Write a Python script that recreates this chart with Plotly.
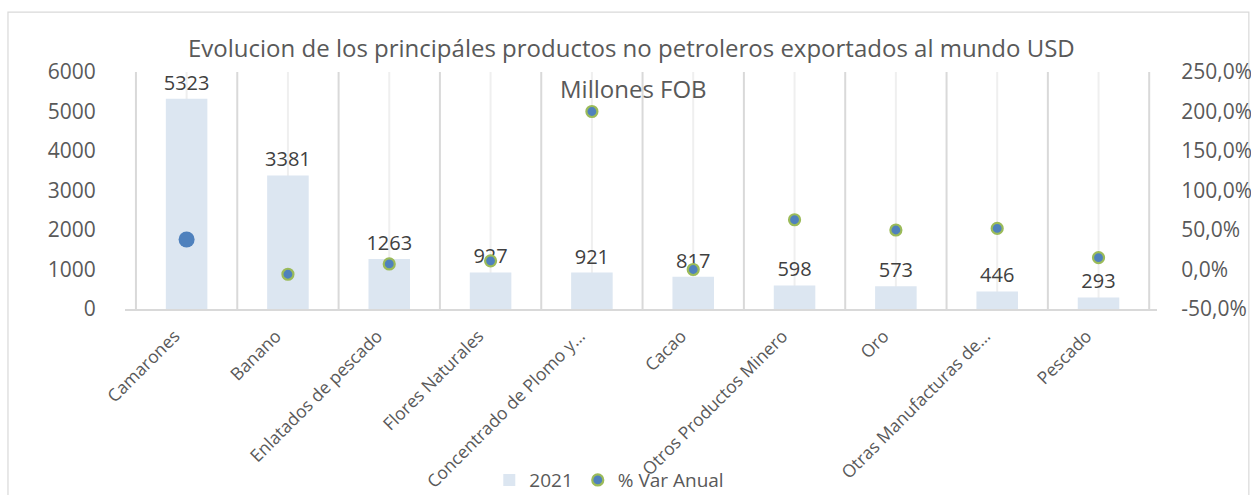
import plotly.graph_objects as go

categories = ["Camarones", "Banano", "Enlatados de pescado", "Flores Naturales",
              "Concentrado de Plomo y…", "Cacao", "Otros Productos Minero", "Oro",
              "Otras Manufacturas de…", "Pescado"]
values_2021 = [5323, 3381, 1263, 927, 921, 817, 598, 573, 446, 293]
var_anual = [38, -6, 7, 11, 200, 0, 63, 50, 52, 15]
left_ticks = [0, 1000, 2000, 3000, 4000, 5000, 6000]
right_ticks = [-50, 0, 50, 100, 150, 200, 250]
right_ticktext = [f"{v:.1f}".replace(".", ",") + "%" for v in right_ticks]

TXT = "#595959"
FONT = "Open Sans"
fig = go.Figure()

fig.add_trace(go.Bar(
    x=categories, y=values_2021, name="2021",
    marker=dict(color="#dce6f1", line=dict(width=0)),
    text=[str(v) for v in values_2021], textposition="outside",
    textfont=dict(family=FONT, size=20, color="#404040"),
    constraintext="none", cliponaxis=False,
))

fig.add_trace(go.Scatter(
    x=categories, y=var_anual, name="% Var Anual", yaxis="y2", mode="markers",
    marker=dict(color="#4f81bd", size=11, line=dict(color="#9bbb59", width=2.2)),
    cliponaxis=False,
))
# highlighted first point (no outline)
fig.add_trace(go.Scatter(
    x=categories[:1], y=var_anual[:1], yaxis="y2", mode="markers", showlegend=False,
    marker=dict(color="#4f81bd", size=16, line=dict(width=0)), cliponaxis=False,
))

shapes = []
n = len(categories)
for i in range(n):
    shapes.append(dict(type="line", xref="x", yref="paper", x0=i, x1=i, y0=0, y1=1,
                       line=dict(color="#efefef", width=2), layer="below"))
for i in range(n + 1):
    shapes.append(dict(type="line", xref="x", yref="paper", x0=i - 0.5, x1=i - 0.5, y0=0, y1=1,
                       line=dict(color="#d9d9d9", width=2), layer="below"))
shapes.append(dict(type="rect", xref="paper", yref="paper", x0=-0.1134, x1=1.089,
                   y0=-0.83, y1=1.253, line=dict(color="#d9d9d9", width=1.2),
                   fillcolor="rgba(0,0,0,0)", layer="below"))

fig.update_layout(
    width=1251, height=495,
    margin=dict(l=125, r=94, t=72, b=186, autoexpand=False),
    paper_bgcolor="white", plot_bgcolor="white",
    bargap=0.59,
    showlegend=True,
    legend=dict(orientation="h", x=0.353, xanchor="left", y=-0.722, yanchor="middle",
                font=dict(family=FONT, size=19, color=TXT), itemwidth=30,
                bgcolor="rgba(0,0,0,0)",
                tracegroupgap=0, traceorder="normal"),
    xaxis=dict(showgrid=False, zeroline=False, showline=True, linecolor="#d9d9d9", linewidth=2,
               tickangle=-45, tickfont=dict(family=FONT, size=17.5, color=TXT),
               ticks="outside", ticklen=8, tickcolor="rgba(0,0,0,0)", automargin=False,
               ticklabelshift=-12),
    yaxis=dict(range=[0, 6000], tickvals=left_ticks, showgrid=False, zeroline=False,
               showline=False, tickfont=dict(family=FONT, size=21, color=TXT),
               ticks="outside", ticklen=24, tickcolor="rgba(0,0,0,0)", automargin=False),
    yaxis2=dict(range=[-50, 250], tickvals=right_ticks, ticktext=right_ticktext,
                overlaying="y", side="right",
                showgrid=False, zeroline=False, showline=False,
                tickfont=dict(family=FONT, size=21, color=TXT),
                ticks="outside", ticklen=19, tickcolor="rgba(0,0,0,0)", automargin=False),
    shapes=shapes,
    annotations=[
        dict(text="Evolucion de los principáles productos no petroleros exportados al mundo USD",
             xref="paper", yref="paper", x=0.491, y=1.105, xanchor="center", yanchor="middle",
             showarrow=False, font=dict(family=FONT, size=24, color=TXT)),
        dict(text="Millones FOB", xref="paper", yref="paper", x=0.493, y=0.93,
             xanchor="center", yanchor="middle", showarrow=False,
             font=dict(family=FONT, size=24, color=TXT)),
    ],
)

fig.write_html("out.html", config={"displayModeBar": False},
               post_script="document.body.style.margin='0';document.body.style.overflow='hidden';")
